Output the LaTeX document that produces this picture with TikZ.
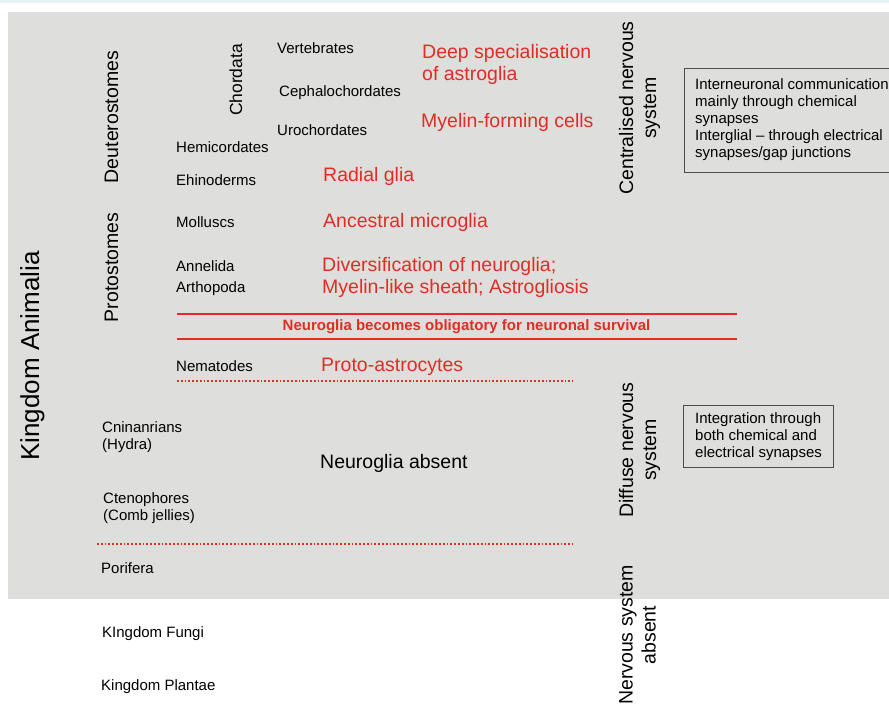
\documentclass[tikz,border=0pt]{standalone}
\usepackage{fontspec}
\setmainfont{Liberation Sans}
\definecolor{panel}{RGB}{222,222,220}
\definecolor{glia}{RGB}{226,45,38}
\definecolor{strip}{RGB}{228,242,244}
\begin{document}
\begin{tikzpicture}[x=1pt,y=-1pt,
 lbl/.style={inner sep=0pt, anchor=base west, font=\fontsize{15}{17}\selectfont, align=left},
 redlbl/.style={inner sep=0pt, anchor=base west, text=glia, font=\fontsize{19.5}{22}\selectfont, align=left},
 biglbl/.style={inner sep=0pt, anchor=base west, font=\fontsize{19.5}{22}\selectfont},
 vlab/.style={inner sep=0pt, rotate=90, anchor=base, font=\fontsize{19.5}{23}\selectfont},
 vlabtwo/.style={inner sep=0pt, rotate=90, anchor=center, align=center, font=\fontsize{19.5}{23}\selectfont},
 infobox/.style={draw=black!70, line width=1pt},
 boundary/.style={draw=glia, line width=2pt},
 dotline/.style={draw=glia, line width=1.8pt, dash pattern=on 1.8pt off 2pt}]
\useasboundingbox (0,0) rectangle (889,704);
\fill[white] (0,0) rectangle (889,704);
\fill[strip] (0,0) rectangle (889,3);
\fill[panel] (8,12) rectangle (889,598.5);

% vertical group labels
\node[vlab, font=\fontsize{26}{30}\selectfont] (animalia) at (39,356) {Kingdom Animalia};
\node[vlab] (deutero) at (118,117) {Deuterostomes};
\node[vlab] (proto) at (118,267.5) {Protostomes};
\node[vlab, font=\fontsize{17.5}{21}\selectfont] (chordata) at (242,80) {Chordata};

% taxa
\node[lbl] (vert) at (277,53) {Vertebrates};
\node[lbl] (ceph) at (279,96) {Cephalochordates};
\node[lbl] (uro) at (277,135) {Urochordates};
\node[lbl] (hemi) at (176,152) {Hemicordates};
\node[lbl] (ehino) at (176,185) {Ehinoderms};
\node[lbl] (moll) at (176,227) {Molluscs};
\node[lbl] (anne) at (176,271) {Annelida};
\node[lbl] (arth) at (176,292) {Arthopoda};
\node[lbl] (nema) at (176,371) {Nematodes};
\node[lbl] (cnid) at (102,449) {Cninanrians\\(Hydra)};
\node[lbl] (cteno) at (103,520) {Ctenophores\\(Comb jellies)};
\node[lbl] (pori) at (101,573) {Porifera};
\node[lbl] (fungi) at (102,637) {KIngdom Fungi};
\node[lbl] (plant) at (101,690) {Kingdom Plantae};

% glial features
\node[redlbl] (deep) at (422,80) {Deep specialisation\\of astroglia};
\node[redlbl] (myelin) at (421,127) {Myelin-forming cells};
\node[redlbl] (radial) at (323,181) {Radial glia};
\node[redlbl] (micro) at (323,227) {Ancestral microglia};
\node[redlbl] (divers) at (322,293) {Diversification of neuroglia;\\Myelin-like sheath; Astrogliosis};
\node[redlbl] (protoastro) at (321,371) {Proto-astrocytes};
\node[biglbl] (absent) at (320,468) {Neuroglia absent};

% obligatory band
\draw[boundary] (177,314) -- (737,314);
\draw[boundary] (177,339) -- (737,339);
\node[inner sep=0pt, anchor=base, text=glia, font=\bfseries\fontsize{15}{17}\selectfont] (oblig) at (466.5,330) {Neuroglia becomes obligatory for neuronal survival};

% dotted boundaries
\draw[dotline] (177,381) -- (573,381);
\draw[dotline] (97,544) -- (573,544);

% nervous system types
\node[vlabtwo] (cns) at (639.5,108) {Centralised nervous\\system};
\node[vlabtwo] (dns) at (639.5,450) {Diffuse nervous\\system};
\node[vlabtwo] (nns) at (637.5,635) {Nervous system\\absent};

% info boxes
\draw[infobox] (684,68) rectangle (905,172);
\node[lbl, font=\fontsize{15}{16.8}\selectfont] (chem) at (695,157) {Interneuronal communication\\mainly through chemical\\synapses\\Interglial -- through electrical\\synapses/gap junctions};
\draw[infobox] (683,405) rectangle (833,467);
\node[lbl] (integ) at (695,457) {Integration through\\both chemical and\\electrical synapses};
\end{tikzpicture}
\end{document}
